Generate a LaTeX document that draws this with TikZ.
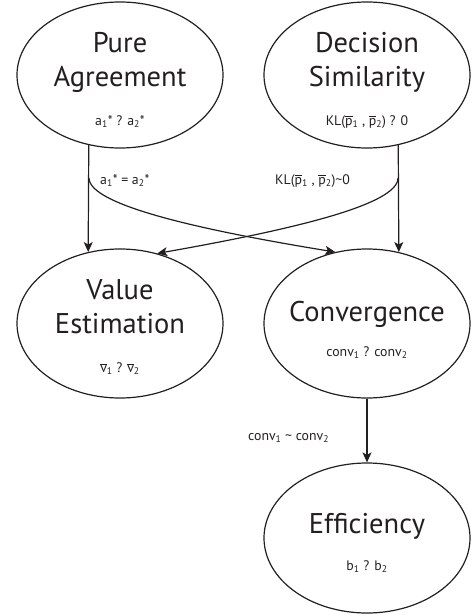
\documentclass[tikz,border=0pt]{standalone}
\usepackage{fontspec}
\setmainfont{PT Sans}
\usetikzlibrary{arrows.meta,shapes.geometric}
\definecolor{ink}{RGB}{35,31,32}
\newcommand\obar[1]{\ensuremath{\overline{\mbox{#1}}}}
\newcommand\sub[1]{\textsubscript{#1}}
\begin{document}
\begin{tikzpicture}[x=1pt,y=-1pt,
  bubble/.style={ellipse, draw=ink, line width=1.2pt, inner sep=0pt, minimum width=206pt},
  big/.style={font=\fontsize{28.5}{31}\selectfont, text=ink, anchor=base, inner sep=0pt},
  small/.style={font=\fontsize{13.8}{16}\selectfont, text=ink, anchor=base, inner sep=0pt},
  arr/.style={draw=ink, line width=1.2pt, -{Stealth[length=10pt,width=9pt,inset=2.5pt]}}]
\useasboundingbox (0,0) rectangle (471,615);
% ellipses
\node[bubble, minimum height=146pt] (pa) at (120,75) {};
\node[bubble, minimum height=146pt] (ds) at (367,75) {};
\node[bubble, minimum height=149pt] (ve) at (120,323.5) {};
\node[bubble, minimum height=149pt] (cv) at (367,323.5) {};
\node[bubble, minimum height=150pt] (ef) at (367,538) {};
% texts
\node[big] (t1) at (120,53) {Pure};
\node[big] (t2) at (120,87) {Agreement};
\node[small] (f1) at (120,125) {a\sub{1}* ? a\sub{2}*};
\node[big] (t3) at (367,53) {Decision};
\node[big] (t4) at (367,87) {Similarity};
\node[small] (f2) at (367,125) {KL(\obar{p}\sub{1} , \obar{p}\sub{2}) ? 0};
\node[big] (t5) at (120,299) {Value};
\node[big] (t6) at (120,333) {Estimation};
\node[small] (f3) at (120,372) {\obar{v}\sub{1} ? \obar{v}\sub{2}};
\node[big] (t7) at (367,321) {Convergence};
\node[small] (f4) at (367,356) {conv\sub{1} ? conv\sub{2}};
\node[big] (t8) at (367,533) {Efficiency};
\node[small] (f5) at (367,570) {b\sub{1} ? b\sub{2}};
% edge labels
\node[small, anchor=base west] (e1) at (100,184) {a\sub{1}* = a\sub{2}*};
\node[small, anchor=base west] (e2) at (275,184) {KL(\obar{p}\sub{1} , \obar{p}\sub{2})\textasciitilde0};
\node[small, anchor=base west] (e3) at (248,440) {conv\sub{1} \textasciitilde{} conv\sub{2}};
% connectors
\coordinate (bl) at (89,178);
\coordinate (br) at (398,178);
\draw[arr] (pa.246) -- (ve.114);
\draw[arr] (ds.294) -- (cv.66);
\draw[arr] (bl) .. controls (89,205) and (200,230) .. (cv.114);
\draw[arr] (br) .. controls (398,205) and (290,230) .. (ve.62);
\draw[arr] (cv.south) -- (ef.north);
\end{tikzpicture}
\end{document}
